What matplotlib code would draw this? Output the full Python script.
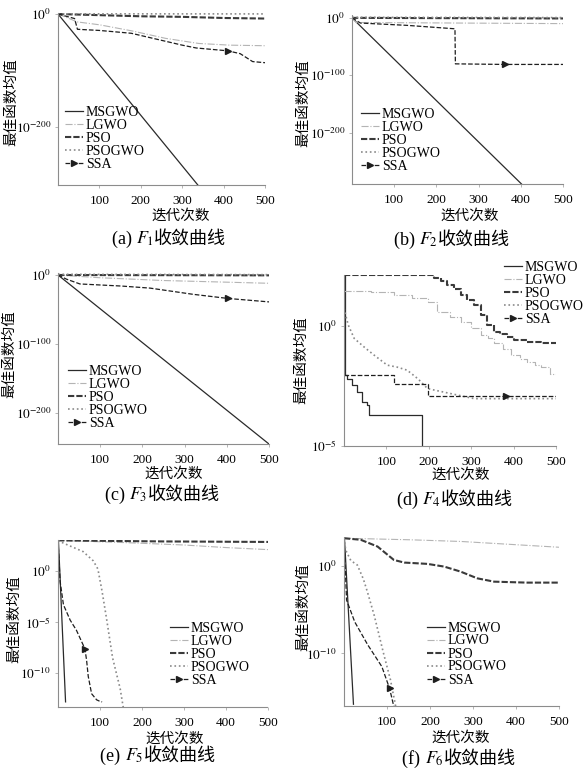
import numpy as np
import matplotlib
matplotlib.use('Agg')
import matplotlib.pyplot as plt
from matplotlib.ticker import FixedLocator, NullLocator
from matplotlib.offsetbox import TextArea, HPacker, AnchoredOffsetbox

plt.rcParams['font.family'] = ['Liberation Serif', 'Noto Sans CJK SC']
plt.rcParams['mathtext.fontset'] = 'stix'

# series: (iteration, log10 of mean best value)
f1_msgwo = ([0, 340], [0, -304])
f1_lgwo = ([0, 47, 100, 180, 260, 340, 415, 500], [0, -14, -19, -30, -43, -52, -55, -56])
f1_pso = ([0, 100, 200, 300, 400, 500], [0, -2, -4, -5, -7, -8])
f1_psogwo = ([0, 250, 500], [0.5, 0.3, 0.2])
f1_ssa = ([0, 40, 47, 100, 177, 300, 334, 410, 440, 470, 500],
          [0, -8, -27, -29, -34, -55, -60, -65, -70, -84, -86])

f2_msgwo = ([0, 410], [0, -295])
f2_lgwo = ([0, 10, 500], [0, -8, -10])
f2_pso = ([0, 500], [0, -1])
f2_psogwo = ([0, 500], [1, 0.5])
f2_ssa = ([0, 20, 130, 244, 245, 362, 500], [0, -9, -13, -19, -80, -81, -81])

f3_msgwo = ([0, 502], [0, -246])
f3_lgwo = ([0, 100, 250, 500], [0, -4, -8, -12])
f3_pso = ([0, 500], [0, -0.5])
f3_psogwo = ([0, 500], [1, 0.5])
f3_ssa = ([0, 20, 52, 150, 218, 320, 403, 500], [0, -6, -13, -16, -19, -28, -34, -39])

f4_msgwo = ([0, 3, 8, 20, 31, 43, 55, 59, 185],
            [2.13, -2.05, -2.2, -2.45, -2.75, -3.16, -3.3, -3.7, -8])
f4_lgwo = ([0, 63, 118, 160, 197, 220, 250, 275, 300, 322, 340, 354, 375, 393, 415, 432, 450, 464, 485, 500],
           [1.5, 1.45, 1.32, 1.2, 1.04, 0.62, 0.4, 0.2, -0.05, -0.36, -0.5, -0.71, -0.95, -1.2, -1.35,
            -1.48, -1.6, -1.69, -1.97, -1.97])
f4_pso = ([0, 212, 228, 244, 259, 275, 291, 306, 322, 338, 354, 369, 385, 401, 432, 464, 500],
          [2.13, 2.02, 1.9, 1.74, 1.55, 1.32, 1.1, 0.9, 0.48, 0.06, -0.22, -0.33, -0.43, -0.57, -0.64,
           -0.71, -0.71])
f4_psogwo = ([0, 5, 10, 24, 50, 71, 102, 125, 149, 175, 197, 252, 307, 500],
             [0.76, 0.4, 0.06, -0.5, -0.9, -1.2, -1.62, -1.7, -1.83, -2.2, -2.6, -2.81, -3.02, -3.02])
f4_ssa = ([0, 118, 197, 381, 500], [-2.05, -2.42, -2.91, -2.91, -2.91])

f5_msgwo = ([1, 18], [3.0, -12.8])
f5_lgwo = ([0, 150, 300, 400, 500], [3.0, 2.8, 2.55, 2.3, 2.1])
f5_pso = ([0, 250, 500], [3.0, 2.9, 2.85])
f5_psogwo = ([0, 12, 60, 84, 95, 105, 115, 130, 148, 156], [3.0, 2.75, 1.9, 1.0, 0.2, -2.0, -4.5, -8.5, -11.5, -13.5])
f5_ssa = ([0, 5, 13, 29, 44, 64, 68, 72, 80, 92, 100, 105],
          [3.0, -1, -3.3, -4.8, -5.8, -7.6, -8.7, -10.3, -12, -12.6, -12.75, -12.8])

f6_msgwo = ([1, 22], [3.2, -15.8])
f6_lgwo = ([0, 155, 272, 500], [3.16, 2.98, 2.79, 2.13])
f6_pso = ([0, 39, 78, 116, 140, 194, 233, 271, 310, 349, 426, 500],
          [3.16, 2.98, 2.21, 0.68, 0.38, 0.23, -0.08, -0.65, -1.42, -1.8, -1.91, -1.91])
f6_psogwo = ([0, 4, 16, 31, 45, 54, 70, 92, 108, 116, 122],
             [3.2, 1.8, 0.6, 0.1, -1.5, -2.9, -5.6, -10, -13, -15, -16.5])
f6_ssa = ([0, 6, 25, 55, 88, 106, 118], [3.2, -3.9, -6.4, -9.0, -11.5, -14.0, -16.5])

names = ['MSGWO', 'LGWO', 'PSO', 'PSOGWO', 'SSA']
xticks = [100, 200, 300, 400, 500]

styles = {
    'MSGWO': dict(color='#2a2a2a', ls='-', lw=0.9),
    'LGWO': dict(color='#b4b4b4', ls='-.', lw=0.8),
    'PSO': dict(color='#3a3a3a', ls=(0, (3, 1)), lw=1.5),
    'PSOGWO': dict(color='#8a8a8a', ls=':', lw=1.2),
    'SSA': dict(color='#1e1e1e', ls='--', lw=0.9, marker='>', ms=5),
}

# letter, index, series, arrow idx, ylim (log10), yticks (log10), axes rect px (l, t, r, b),
# legend anchor (axes), ylabel coords, xlabel coords, caption centre px, step drawing
panels = [
    ('a', 1, [f1_msgwo, f1_lgwo, f1_pso, f1_psogwo, f1_ssa], 7, (-302, 1.8), [0, -200],
     (58, 13, 265, 185), (0.034, 0.46), (-0.225, 0.48), (0.594, -0.18), (169, 239), False),
    ('b', 2, [f2_msgwo, f2_lgwo, f2_pso, f2_psogwo, f2_ssa], 5, (-289, 5), [0, -100, -200],
     (352, 15, 563, 184), (0.043, 0.45), (-0.232, 0.48), (0.559, -0.19), (452, 240), False),
    ('c', 3, [f3_msgwo, f3_lgwo, f3_pso, f3_psogwo, f3_ssa], 6, (-245, 2.9), [0, -100, -200],
     (58, 273, 269, 444), (0.047, 0.46), (-0.232, 0.526), (0.55, -0.175), (162, 495), False),
    ('d', 4, [f4_msgwo, f4_lgwo, f4_pso, f4_psogwo, f4_ssa], 3, (-5.0, 2.15), [0, -5],
     (344, 275, 556, 446), (0.755, 1.08), (-0.203, 0.50), (0.552, -0.17), (455, 500), True),
    ('e', 5, [f5_msgwo, f5_lgwo, f5_pso, f5_psogwo, f5_ssa], 5, (-13.3, 3.04), [0, -5, -10],
     (58, 540, 268, 707), (0.533, 0.51), (-0.21, 0.527), (0.557, -0.19), (158, 756), False),
    ('f', 6, [f6_msgwo, f6_lgwo, f6_pso, f6_psogwo, f6_ssa], 5, (-16.0, 3.3), [0, -10],
     (344, 537, 559, 706), (0.386, 0.50), (-0.19, 0.585), (0.544, -0.19), (459, 759), False),
]

W, H = 588, 774
fig = plt.figure(figsize=(W / 100, H / 100), dpi=100)

for (letter, k, series, arrow, ylim, yt, rect, leg_xy, ylab_xy, xlab_xy, cap_xy, steps) in panels:
    l, t, r, b = rect
    ax = fig.add_axes([l / W, 1 - b / H, (r - l) / W, (b - t) / H])
    for name, (xs, ys) in zip(names, series):
        st = dict(styles[name])
        if name == 'SSA':
            st['markevery'] = [arrow]
        if steps and name != 'PSOGWO':
            st['drawstyle'] = 'steps-post'
        ax.plot(xs, 10.0 ** np.array(ys, dtype=float), label=name, **st)
    ax.set_yscale('log')
    ax.set_xlim(0, 500)
    ax.set_ylim(10.0 ** ylim[0], 10.0 ** ylim[1])
    ax.yaxis.set_major_locator(FixedLocator([10.0 ** v for v in yt]))
    ax.yaxis.set_minor_locator(NullLocator())
    ax.set_yticklabels([r'$10^{%d}$' % v for v in yt])
    ax.set_xticks(xticks)
    ax.tick_params(labelsize=9.5, length=2, width=0.5, color='#999999')
    ax.tick_params(axis='x', pad=5)
    ax.tick_params(axis='y', pad=3)
    for side in ['top', 'right']:
        ax.spines[side].set_visible(False)
    for side in ['left', 'bottom']:
        ax.spines[side].set_color('#8c8c8c')
        ax.spines[side].set_linewidth(0.8)
        ax.spines[side].set_linestyle((0, (2, 1)))

    ax.set_xlabel('迭代次数', fontsize=10.5, family='Noto Sans CJK SC')
    ax.xaxis.set_label_coords(*xlab_xy)
    ax.xaxis.label.set_va('center')
    ax.set_ylabel('最佳函数均值', fontsize=10.5, family='Noto Sans CJK SC')
    ax.yaxis.set_label_coords(*ylab_xy)
    ax.yaxis.label.set_va('center')

    ax.legend(loc='upper left', bbox_to_anchor=leg_xy, frameon=False, fontsize=10,
              borderpad=0, borderaxespad=0, handlelength=1.3, handletextpad=0.2,
              labelspacing=0.0)

    parts = [TextArea('(%s) ' % letter, textprops=dict(size=13, family='Liberation Serif')),
             TextArea(r'$F_{%d}$' % k, textprops=dict(size=13)),
             TextArea('收敛曲线', textprops=dict(size=13, family='Noto Sans CJK SC'))]
    box = HPacker(children=parts, align='baseline', pad=0, sep=0)
    cap = AnchoredOffsetbox(loc='center', child=box, pad=0, borderpad=0, frameon=False,
                            bbox_to_anchor=(cap_xy[0] / W, 1 - cap_xy[1] / H),
                            bbox_transform=fig.transFigure)
    fig.add_artist(cap)

fig.savefig('out.png', dpi=100)
